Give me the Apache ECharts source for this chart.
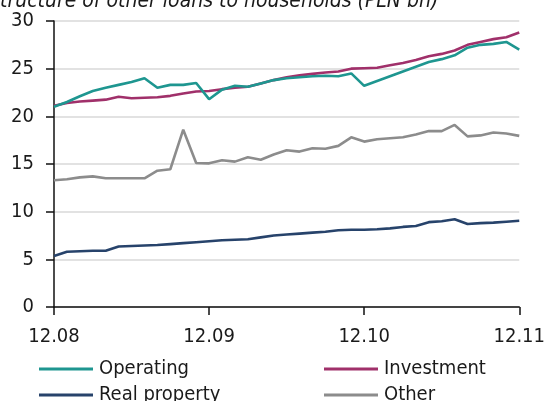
<!DOCTYPE html>
<html>
<head>
<meta charset="utf-8">
<script src="https://cdn.jsdelivr.net/npm/echarts@6/dist/echarts.min.js"></script>
<style>
  html, body { margin: 0; padding: 0; background: #fff; }
  #chart { width: 548px; height: 401px; }
</style>
</head>
<body>
<div id="chart"></div>
<script>
// Monthly stock of other loans to households, PLN bn (Dec 2008 – Dec 2011)
const months = [
  '12.08','01.09','02.09','03.09','04.09','05.09','06.09','07.09','08.09','09.09','10.09','11.09',
  '12.09','01.10','02.10','03.10','04.10','05.10','06.10','07.10','08.10','09.10','10.10','11.10',
  '12.10','01.11','02.11','03.11','04.11','05.11','06.11','07.11','08.11','09.11','10.11','11.11',
  '12.11'
];
const yearTicks = ['12.08', '12.09', '12.10', '12.11'];

const operating = [21.0,21.5,22.1,22.65,23.0,23.3,23.6,24.0,23.0,23.3,23.3,23.5,
  21.8,22.8,23.2,23.1,23.45,23.8,24.0,24.1,24.2,24.25,24.2,24.5,
  23.2,23.7,24.2,24.7,25.2,25.7,26.0,26.4,27.2,27.5,27.6,27.8,27.0];
const investment = [21.1,21.4,21.55,21.65,21.75,22.05,21.9,21.95,22.0,22.15,22.4,22.6,
  22.65,22.85,23.0,23.1,23.45,23.8,24.1,24.3,24.45,24.6,24.7,25.0,
  25.05,25.1,25.35,25.6,25.9,26.3,26.55,26.9,27.5,27.8,28.1,28.3,28.8];
const realProperty = [5.35,5.8,5.85,5.9,5.9,6.35,6.4,6.45,6.5,6.6,6.7,6.8,
  6.9,7.0,7.05,7.1,7.3,7.5,7.6,7.7,7.8,7.9,8.05,8.1,
  8.1,8.15,8.25,8.4,8.5,8.9,9.0,9.2,8.7,8.8,8.85,8.95,9.05];
const other = [13.3,13.4,13.6,13.7,13.5,13.5,13.5,13.5,14.3,14.45,18.6,15.1,
  15.07,15.4,15.25,15.7,15.45,16.0,16.45,16.3,16.65,16.6,16.9,17.8,
  17.35,17.6,17.7,17.8,18.1,18.45,18.45,19.1,17.9,18.0,18.3,18.2,17.95];

const FONT = '"DejaVu Sans Condensed", "DejaVu Sans", sans-serif';
const TEXT = '#1a1a1a';

function lineSeries(name, data, color) {
  return {
    name, type: 'line', data,
    symbol: 'none', smooth: false,
    lineStyle: { color, width: 2.6 },
    itemStyle: { color },
    emphasis: { disabled: true }
  };
}

// one legend entry per slot: two columns, two rows
function legendEntry(name, left, top) {
  return {
    left, top, orient: 'horizontal', padding: 0,
    itemWidth: 54, itemHeight: 3, icon: 'rect',
    data: [name],
    textStyle: { fontFamily: FONT, fontSize: 20, color: TEXT, lineHeight: 20, padding: [0, 0, 0, 1] }
  };
}

const chart = echarts.init(document.getElementById('chart'), null, { renderer: 'canvas' });
chart.setOption({
  animation: false,
  graphic: [{
    type: 'text', left: -12, top: -9,
    style: {
      text: 'Structure of other loans to households (PLN bn)',
      font: 'italic 21px ' + FONT, fill: TEXT
    }
  }],
  grid: { left: 54, right: 28, top: 21, bottom: 94 },
  xAxis: {
    type: 'category', data: months, boundaryGap: false,
    axisLine: { lineStyle: { color: '#111', width: 1.5 } },
    axisTick: {
      length: 8, lineStyle: { color: '#111', width: 1.5 },
      interval: (i, v) => yearTicks.includes(v)
    },
    axisLabel: {
      interval: (i, v) => yearTicks.includes(v),
      fontFamily: FONT, fontSize: 20, color: TEXT, margin: 20
    },
    splitLine: { show: false }
  },
  yAxis: {
    type: 'value', min: 0, max: 30, interval: 5,
    axisLine: { show: true, lineStyle: { color: '#111', width: 1.5 } },
    axisTick: { show: true, length: 8, lineStyle: { color: '#111', width: 1.5 } },
    axisLabel: { fontFamily: FONT, fontSize: 20, color: TEXT, margin: 20 },
    splitLine: { lineStyle: { color: '#d9d9d9', width: 1.5 } }
  },
  legend: [
    legendEntry('Operating', 39, 359),
    legendEntry('Real property', 39, 385),
    legendEntry('Investment', 324, 359),
    legendEntry('Other', 324, 385)
  ],
  series: [
    lineSeries('Other', other, '#8c8c8c'),
    lineSeries('Real property', realProperty, '#27436b'),
    lineSeries('Investment', investment, '#a0306a'),
    lineSeries('Operating', operating, '#1e9690')
  ]
});
</script>
</body>
</html>
